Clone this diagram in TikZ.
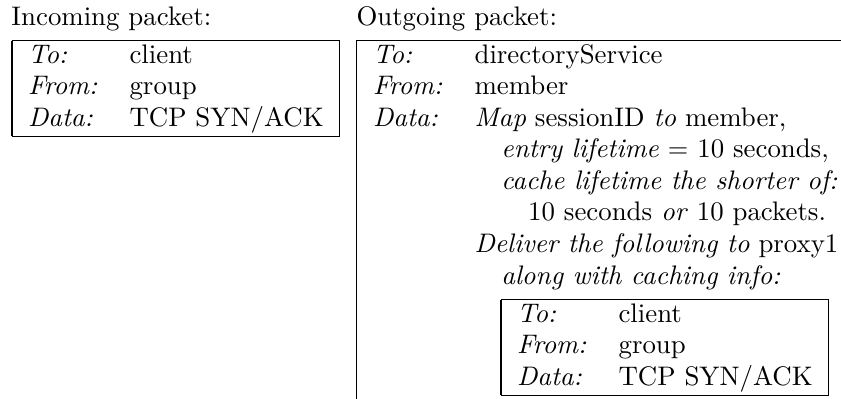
\documentclass[tikz,border=0pt]{standalone}
\setlength{\tabcolsep}{6.12pt}
\tikzset{
  px/.style={x=0.3802pt,y=-0.3802pt},
  every node/.style={font=\fontsize{10.2}{12}\selectfont},
  txt/.style={inner sep=0pt, outer sep=0pt, anchor=base west},
  tab/.style={inner sep=0pt, outer sep=0pt, anchor=north west},
  rulel/.style={line width=0.4pt, draw=black},
}
\newcommand{\pktbox}{\begin{tabular}{|ll|}\hline
\textit{To:} & client\\
\textit{From:} & group\\
\textit{Data:} & TCP SYN/ACK\\ \hline
\end{tabular}}
\begin{document}
\begin{tikzpicture}[px]
\useasboundingbox (0,0) rectangle (841,399);
\node[txt] (intitle) at (11.5,25.5) {Incoming packet:};
\node[txt] (outtitle) at (356.5,25.5) {Outgoing packet:};
\node[tab] (inbox) at (12,40) {\pktbox};
\coordinate (obl) at (356.5,399);
\coordinate (otl) at (356.5,40.5);
\coordinate (otr) at (841,40.5);
\draw[rulel] (obl) -- (otl) -- (otr);
\node[tab] (outtext) at (357,41) {\begin{tabular}{ll}
\textit{To:} & directoryService\\
\textit{From:} & member\\
\textit{Data:} & \textit{Map} sessionID \textit{to} member,\\
 & \quad\textit{entry lifetime} $=$ 10 seconds,\\
 & \quad\textit{cache lifetime the shorter of:}\\
 & \qquad 10 seconds \textit{or} 10 packets.\\
 & \textit{Deliver the following to} proxy1\\
 & \quad\textit{along with caching info:}
\end{tabular}};
\node[tab] (innerbox) at (501,299) {\pktbox};
\end{tikzpicture}
\end{document}
